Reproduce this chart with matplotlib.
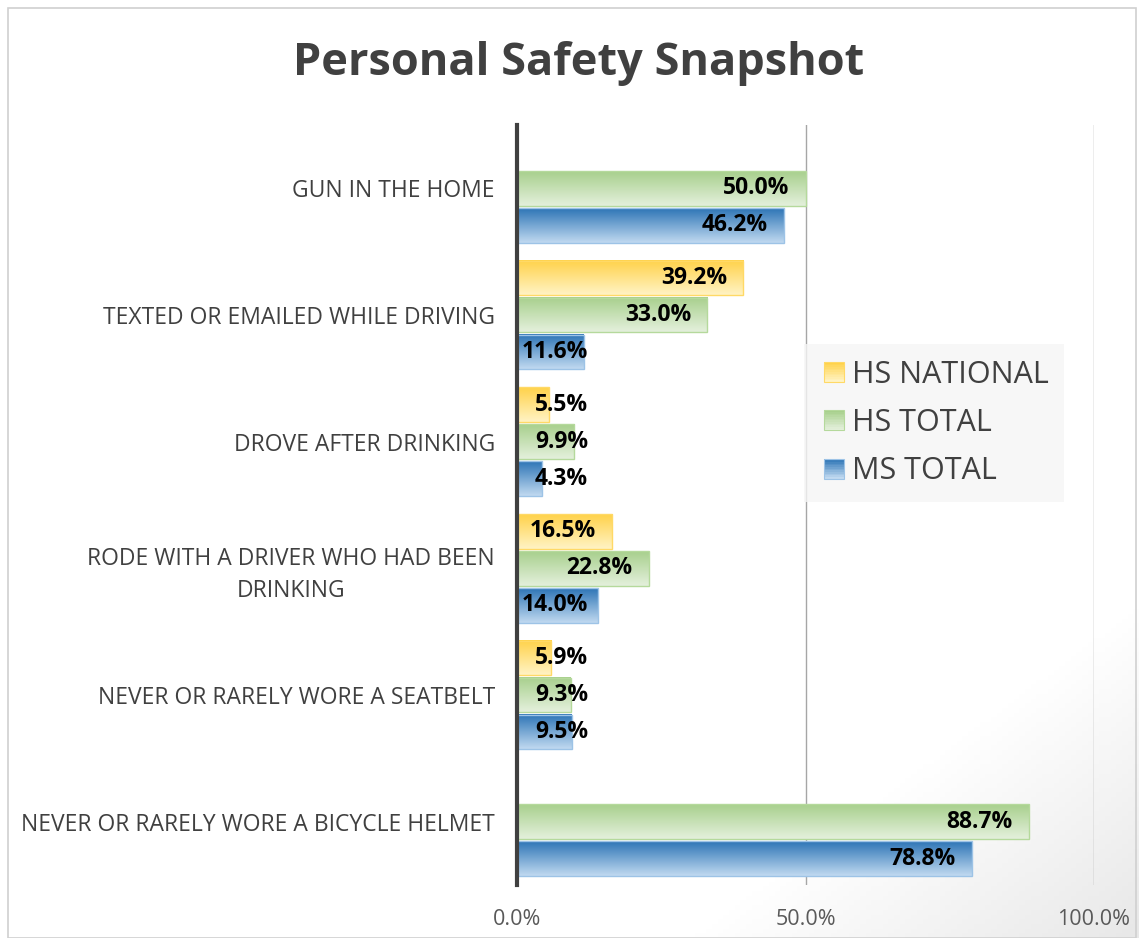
import numpy as np
import matplotlib
matplotlib.use("Agg")
import matplotlib.pyplot as plt
from matplotlib.patches import Rectangle
from matplotlib.legend_handler import HandlerBase
from matplotlib.colors import LinearSegmentedColormap

plt.rcParams['font.family'] = ['Open Sans', 'DejaVu Sans']

title = "Personal Safety Snapshot"
categories = [
    "GUN IN THE HOME",
    "TEXTED OR EMAILED WHILE DRIVING",
    "DROVE AFTER DRINKING",
    "RODE WITH A DRIVER WHO HAD BEEN\nDRINKING",
    "NEVER OR RARELY WORE A SEATBELT",
    "NEVER OR RARELY WORE A BICYCLE HELMET",
]
series_names = ["HS NATIONAL", "HS TOTAL", "MS TOTAL"]
hs_national = [np.nan, 39.2, 5.5, 16.5, 5.9, np.nan]
hs_total = [50.0, 33.0, 9.9, 22.8, 9.3, 88.7]
ms_total = [46.2, 11.6, 4.3, 14.0, 9.5, 78.8]
x_ticks = [0, 50, 100]
x_tick_labels = ["0.0%", "50.0%", "100.0%"]

series = [hs_national, hs_total, ms_total]
# (top colour, bottom colour, edge colour)
grads = [
    ("#FFD24A", "#FFF3C4", "#FFD966"),
    ("#A8D08D", "#E4F0DC", "#B5D99C"),
    ("#2E75B6", "#C0D9F0", "#9DC3E6"),
]

W, H = 1139, 938
fig = plt.figure(figsize=(W / 100, H / 100), dpi=100)

# background gradient
bg = fig.add_axes([0, 0, 1, 1], zorder=-10)
yy, xx = np.mgrid[0:1:200j, 0:1:200j]
d = np.clip((xx * 0.9 + yy * 1.0 - 1.55) / 0.35, 0, 1)
bgc = LinearSegmentedColormap.from_list("bg", ["#FFFFFF", "#E8E8E8"])
bg.imshow(d, cmap=bgc, extent=[0, 1, 0, 1], origin="upper", aspect="auto", vmin=0, vmax=1)
bg.add_patch(Rectangle((0.007, 0.0), 0.99, 0.991, fill=False, edgecolor="#D0D0D0", lw=1.2,
                       transform=bg.transAxes))
bg.set_axis_off()

ax = fig.add_axes([517 / W, 1 - 885 / H, (1094 - 517) / W, (885 - 125) / H])
ax.set_facecolor("none")

n = len(categories)
y = np.arange(n)
bh = 0.275
step = 0.292
offsets = [-step, 0, step]

ppu = (1094 - 517) / 100.0  # pixels per unit

for s, (vals, off, (ctop, cbot, cedge)) in enumerate(zip(series, offsets, grads)):
    cmap = LinearSegmentedColormap.from_list(f"g{s}", [ctop, cbot])
    grad = np.linspace(0, 1, 64).reshape(-1, 1)
    bars = ax.barh(y + off, vals, height=bh, facecolor="none", edgecolor=cedge, lw=1.0, zorder=3)
    for b, v in zip(bars, vals):
        if np.isnan(v):
            continue
        x0, y0 = b.get_x(), b.get_y()
        w, h = b.get_width(), b.get_height()
        ax.imshow(grad, cmap=cmap, extent=[x0, x0 + w, y0 + h, y0], origin="upper",
                  aspect="auto", zorder=2, interpolation="bilinear")
        xr = max(v - 16 / ppu, 71 / ppu)
        ax.text(xr, y0 + h / 2, f"{v:.1f}%", ha="right", va="center",
                fontsize=16.5, fontweight="bold", color="#000000", zorder=5)

ax.set_xlim(0, 100)
ax.set_ylim(n - 0.5, -0.5)
ax.set_yticks(y)
ax.set_yticklabels(categories, fontsize=16.5, color="#404040", linespacing=1.4)
for lbl in ax.get_yticklabels():
    lbl.set_multialignment("center")
ax.tick_params(axis="y", length=0, pad=16)
ax.set_xticks(x_ticks)
ax.set_xticklabels(x_tick_labels, fontsize=15.5, color="#595959")
ax.tick_params(axis="x", length=0, pad=17)
ax.xaxis.grid(True, color="#A6A6A6", lw=1.0, zorder=0)
for sp in ["top", "right", "bottom"]:
    ax.spines[sp].set_visible(False)
ax.spines["left"].set_color("#404040")
ax.spines["left"].set_linewidth(3)
ax.spines["left"].set_zorder(6)

fig.text(579 / W, 1 - 64 / H, title, ha="center", va="center", fontsize=32.5,
         fontweight="bold", color="#404040")


class GradHandler(HandlerBase):
    def __init__(self, ctop, cbot, cedge):
        super().__init__()
        self.ctop, self.cbot, self.cedge = ctop, cbot, cedge

    def create_artists(self, legend, orig_handle, xdescent, ydescent, width, height, fontsize, trans):
        cm = LinearSegmentedColormap.from_list("h", [self.ctop, self.cbot])
        size = height * 0.85
        x0 = -xdescent + width - size
        y0 = -ydescent + (height - size) / 2
        arts = []
        nstrip = 12
        for i in range(nstrip):
            c = cm(i / (nstrip - 1))
            arts.append(Rectangle((x0, y0 + size * (nstrip - 1 - i) / nstrip), size, size / nstrip,
                                  facecolor=c, edgecolor="none", transform=trans))
        arts.append(Rectangle((x0, y0), size, size, facecolor="none", edgecolor=self.cedge,
                              lw=0.8, transform=trans))
        return arts


handles = [Rectangle((0, 0), 1, 1) for _ in series_names]
hmap = {h: GradHandler(*g) for h, g in zip(handles, grads)}
leg = fig.legend(handles, series_names, handler_map=hmap, loc="center",
                 bbox_to_anchor=(934 / W, 1 - 423 / H), fontsize=22, frameon=True,
                 fancybox=False, handlelength=0.8, handleheight=0.8, handletextpad=0.25,
                 labelspacing=0.6, borderpad=0.5, labelcolor="#404040")
leg.get_frame().set_facecolor("#F5F5F5")
leg.get_frame().set_edgecolor("none")

fig.savefig("out.png", dpi=100)
